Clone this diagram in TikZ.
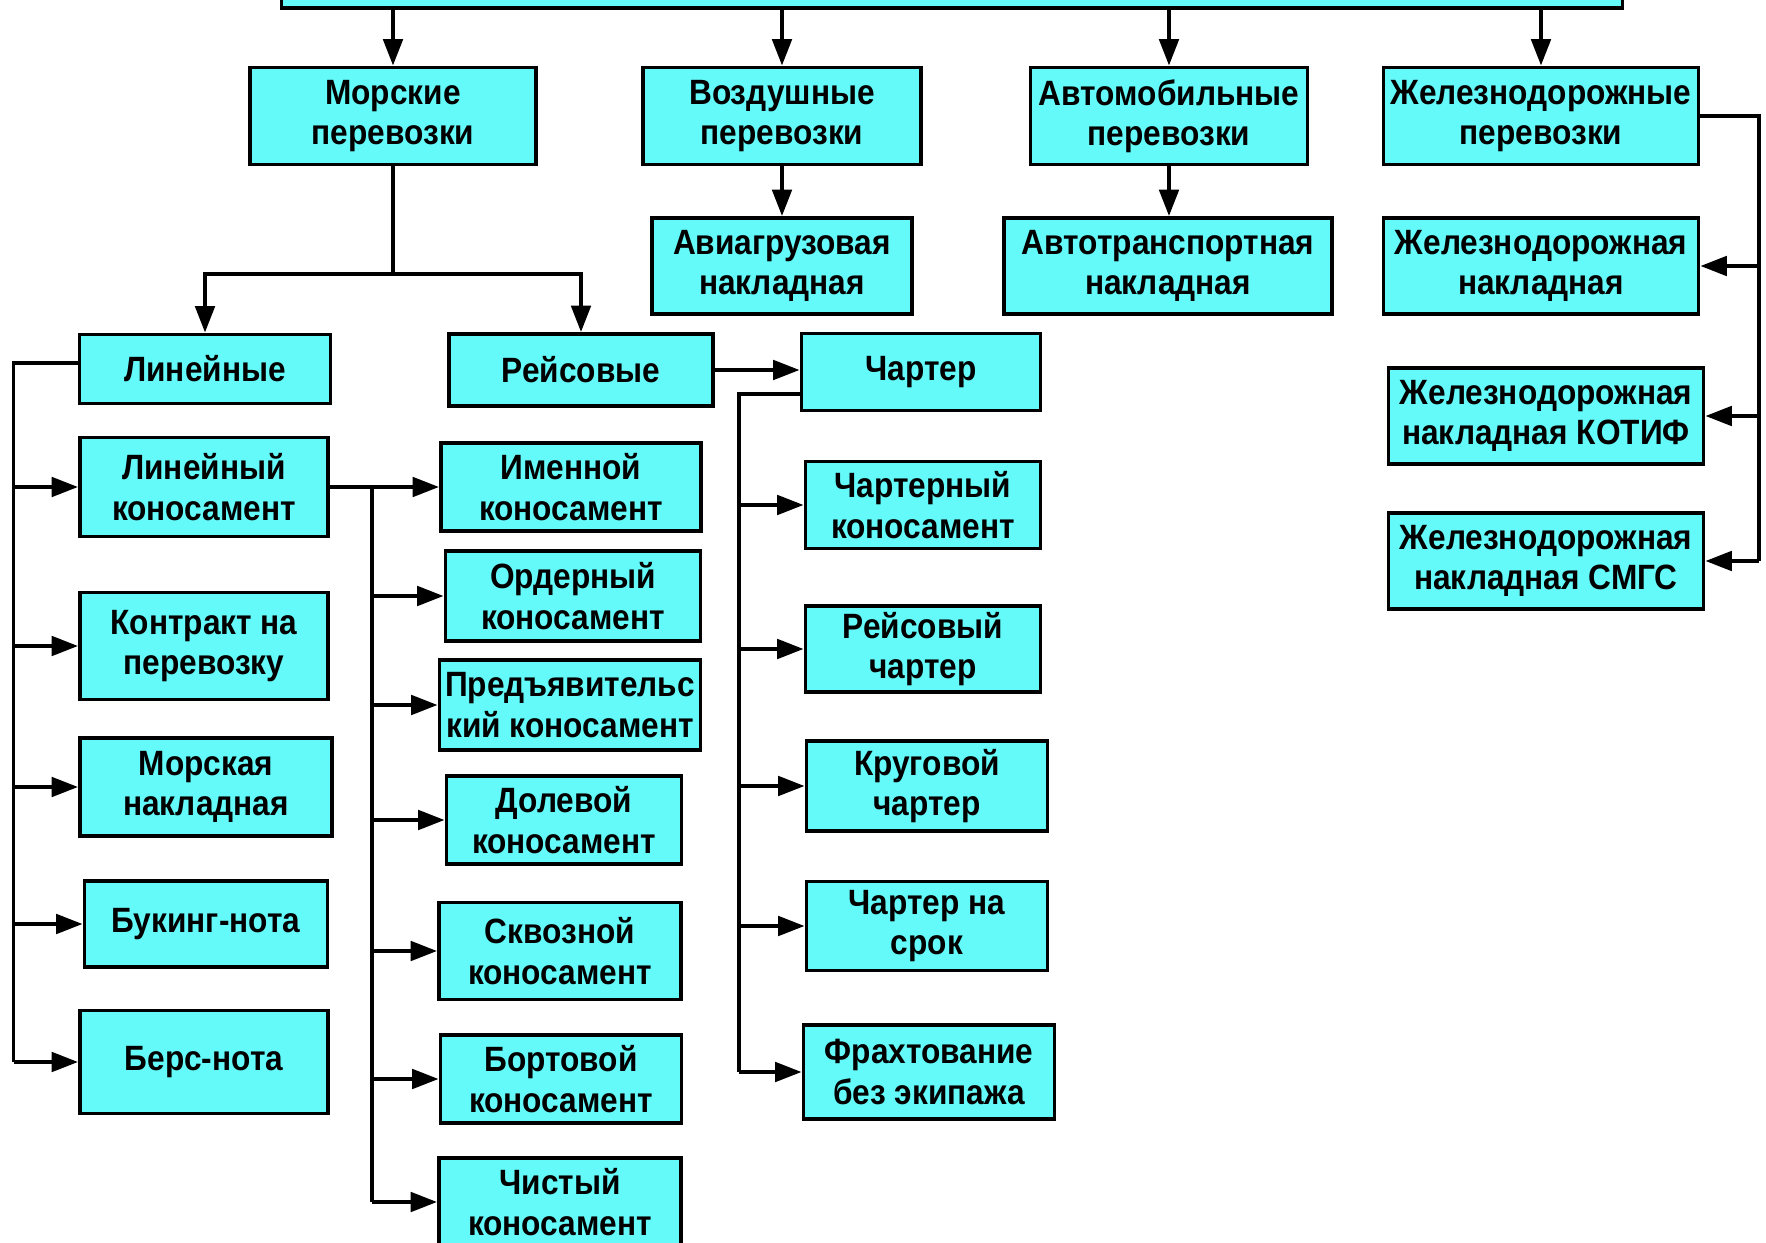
\documentclass[tikz,border=0pt]{standalone}
\usepackage{fontspec}
\newfontfamily\boxfont[FakeStretch=0.9]{Liberation Sans}
\usetikzlibrary{arrows.meta}
\definecolor{boxcyan}{RGB}{100,250,250}

\tikzset{
	docbox/.style={draw=black, fill=boxcyan, line width=2.2pt, inner sep=0pt,
		align=center, font=\boxfont\bfseries\fontsize{20}{23}\selectfont},
	sz/.style 2 args={minimum width=#1*0.02cm, minimum height=#2*0.02cm},
	arr/.style={line width=2.2pt, -{Triangle[length=15pt,width=11pt]}},
	link/.style={line width=2.2pt}
}

\begin{document}
\begin{tikzpicture}[x=0.02cm, y=-0.02cm]
			\useasboundingbox (0,0) rectangle (1766,1243);
			
			%%%top
			\node[docbox, sz={1341}{200}] (top) at (952,-92) {};
			
			\node[docbox, sz={286}{97}] (morsk) at (393,116) {Морские\\перевозки};
			\node[docbox, sz={278}{97}] (vozd) at (782,116) {Воздушные\\перевозки};
			\node[docbox, sz={277}{97}] (avto) at (1169,116) {Автомобильные\\перевозки};
			\node[docbox, sz={315}{97}] (zhd) at (1541,116) {Железнодорожные\\перевозки};
			
			\node[docbox, sz={260}{96}] (avia) at (782,266) {Авиагрузовая\\накладная};
			\node[docbox, sz={328}{96}] (avtotr) at (1168,266) {Автотранспортная\\накладная};
			
			%%%rail
			\node[docbox, sz={315}{96}] (zhdnakl) at (1541,266) {Железнодорожная\\накладная};
			\node[docbox, sz={315}{96}] (kotif) at (1546,416) {Железнодорожная\\накладная КОТИФ};
			\node[docbox, sz={315}{96}] (smgs) at (1546,561) {Железнодорожная\\накладная СМГС};
			
			%%%sea
			\node[docbox, sz={251}{69}] (lin) at (205,369) {Линейные};
			\node[docbox, sz={264}{72}] (reis) at (581,370) {Рейсовые};
			\node[docbox, sz={239}{77}] (charter) at (921,372) {Чартер};
			
			\node[docbox, sz={248}{99}] (linkon) at (204,487) {Линейный\\коносамент};
			\node[docbox, sz={248}{107}] (kontr) at (204,646) {Контракт на\\перевозку};
			\node[docbox, sz={252}{98}] (morsnakl) at (206,787) {Морская\\накладная};
			\node[docbox, sz={243}{86}] (buking) at (206,924) {Букинг-нота};
			\node[docbox, sz={248}{103}] (bers) at (204,1062) {Берс-нота};
			
			\node[docbox, sz={260}{88}] (imen) at (571,487) {Именной\\коносамент};
			\node[docbox, sz={255}{90}] (order) at (573,596) {Ордерный\\коносамент};
			\node[docbox, sz={261}{90}] (predj) at (570,705) {Предъявительс\\кий коносамент};
			\node[docbox, sz={235}{88}] (dolev) at (564,820) {Долевой\\коносамент};
			\node[docbox, sz={242}{97}] (skvoz) at (560,951) {Сквозной\\коносамент};
			\node[docbox, sz={241}{88}] (bort) at (561,1079) {Бортовой\\коносамент};
			\node[docbox, sz={242}{88}] (chist) at (560,1202) {Чистый\\коносамент};
			
			\node[docbox, sz={235}{87}] (charkon) at (923,505) {Чартерный\\коносамент};
			\node[docbox, sz={235}{86}] (reischar) at (923,649) {Рейсовый\\чартер};
			\node[docbox, sz={241}{90}] (krug) at (927,786) {Круговой\\чартер};
			\node[docbox, sz={241}{89}] (srok) at (927,926) {Чартер на\\срок};
			\node[docbox, sz={251}{94}] (fraht) at (929,1072) {Фрахтование\\без экипажа};
			
			%%arrows from top
			\foreach \n in {morsk, vozd, avto, zhd}
				\draw[arr] (top.south -| \n.north) -- (\n.north);
			\draw[arr] (vozd.south) -- (avia.north);
			\draw[arr] (avto.south) -- (avto.south |- avtotr.north);
			
			%%rail bus
			\coordinate (zbus) at (1759,0);
			\draw[link] (zhd.east) -| (zbus |- smgs.east);
			\foreach \n in {zhdnakl, kotif, smgs}
				\draw[arr] (zbus |- \n.east) -- (\n.east);
			
			%%sea fork
			\coordinate (mfork) at (393,274);
			\draw[link] (morsk.south) -- (mfork);
			\draw[arr] (mfork) -| (lin.north);
			\draw[arr] (mfork) -| (reis.north);
			\draw[arr] (reis.east) -- (reis.east -| charter.west);
			
			%%liner bus
			\coordinate (lbus) at (13.5,0);
			\draw[link] ([yshift=0.12cm]lin.west) -| (lbus |- bers.west);
			\foreach \n in {linkon, kontr, morsnakl, buking, bers}
				\draw[arr] (lbus |- \n.west) -- (\n.west);
			
			%%bill of lading bus
			\coordinate (kbus) at (372,0);
			\draw[arr] (linkon.east) -- (imen.west);
			\draw[link] (linkon.east -| kbus) -- (kbus |- chist.west);
			\foreach \n in {order, predj, dolev, skvoz, bort, chist}
				\draw[arr] (kbus |- \n.west) -- (\n.west);
			
			%%charter bus
			\coordinate (cbus) at (739,0);
			\draw[link] ([yshift=-0.44cm]charter.west) -| (cbus |- fraht.west);
			\foreach \n in {charkon, reischar, krug, srok, fraht}
				\draw[arr] (cbus |- \n.west) -- (\n.west);
		\end{tikzpicture}
\end{document}
